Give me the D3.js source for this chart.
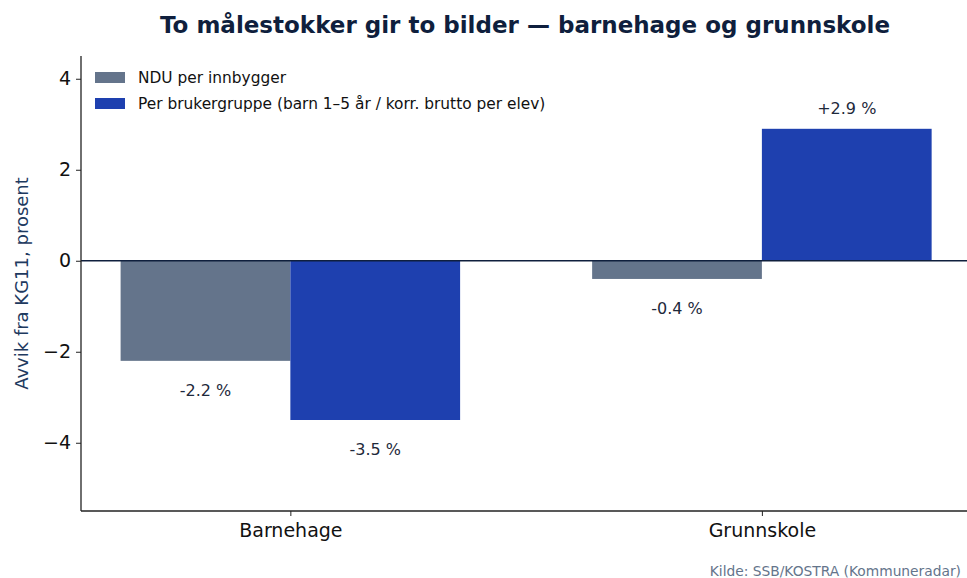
<!DOCTYPE html>
<html>
<head>
<meta charset="utf-8">
<script src="https://cdn.jsdelivr.net/npm/d3@7"></script>
<style>
  body { margin: 0; background: #fff; }
  text { font-family: "DejaVu Sans", sans-serif; }
</style>
</head>
<body>
<svg width="967" height="578"></svg>
<script>
const categories = ["Barnehage", "Grunnskole"];
const seriesNames = ["NDU per innbygger", "Per brukergruppe (barn 1–5 år / korr. brutto per elev)"];
const nduValues = [-2.2, -0.4];
const brukerValues = [-3.5, 2.9];
const yTicks = [-4, -2, 0, 2, 4];
const colors = ["#64748b", "#1e40af"];

const svg = d3.select("svg"),
  margin = { top: 56, right: 0, bottom: 67, left: 81 },
  width = +svg.attr("width") - margin.left - margin.right,
  height = +svg.attr("height") - margin.top - margin.bottom,
  g = svg.append("g").attr("transform", "translate(" + margin.left + "," + margin.top + ")");

// category index -> pixel, matplotlib-like margins
const x = d3.scaleLinear().domain([-0.444, 1.435]).range([0, width]);
const y = d3.scaleLinear().domain([-5.5, 4.5]).range([height, 0]);
const barW = 0.36;

const series = [nduValues, brukerValues];
series.forEach((vals, s) => {
  g.selectAll(".bar" + s)
    .data(vals)
    .enter().append("rect")
    .attr("x", (d, i) => x(i + (s === 0 ? -barW : 0)))
    .attr("width", x(barW) - x(0))
    .attr("y", d => y(Math.max(0, d)))
    .attr("height", d => Math.abs(y(d) - y(0)))
    .attr("fill", colors[s]);

  g.selectAll(".lab" + s)
    .data(vals)
    .enter().append("text")
    .attr("x", (d, i) => x(i + (s === 0 ? -barW / 2 : barW / 2)))
    .attr("y", d => d < 0 ? y(d) + 35 : y(d) - 15)
    .attr("text-anchor", "middle")
    .attr("font-size", "16px")
    .attr("fill", "#1e293b")
    .text(d => (d > 0 ? "+" : "") + d.toFixed(1) + " %");
});

// zero line
g.append("line")
  .attr("x1", 0).attr("x2", width)
  .attr("y1", y(0)).attr("y2", y(0))
  .attr("stroke", "#0f1f3d").attr("stroke-width", 1.3);

// axes
const yAxis = g.append("g")
  .call(d3.axisLeft(y).tickValues(yTicks).tickSize(5).tickPadding(5)
    .tickFormat(d => d < 0 ? "\u2212" + Math.abs(d) : d));
const xAxis = g.append("g")
  .attr("transform", "translate(0," + height + ")")
  .call(d3.axisBottom(x).tickValues([0, 1]).tickSize(5).tickPadding(8)
    .tickFormat(i => categories[i]));

[yAxis, xAxis].forEach(a => {
  a.select(".domain").attr("stroke", "#222").attr("stroke-width", 1.3)
    .attr("d", a === yAxis ? "M0,0V" + height : "M0,0H" + width);
  a.selectAll(".tick line").attr("stroke", "#222");
  a.selectAll("text").attr("font-size", "19px").attr("fill", "#111")
    .attr("font-family", "DejaVu Sans, sans-serif");
});

// y label
svg.append("text")
  .attr("transform", "translate(28," + (margin.top + y(-0.5)) + ") rotate(-90)")
  .attr("text-anchor", "middle")
  .attr("font-size", "18px")
  .attr("fill", "#1e3a5f")
  .text("Avvik fra KG11, prosent");

// title
svg.append("text")
  .attr("x", 525).attr("y", 33)
  .attr("text-anchor", "middle")
  .attr("font-size", "23px")
  .attr("font-weight", "bold")
  .attr("fill", "#0f1f3d")
  .text("To målestokker gir to bilder — barnehage og grunnskole");

// legend
const legend = svg.append("g").attr("transform", "translate(95,72)");
seriesNames.forEach((name, i) => {
  legend.append("rect")
    .attr("x", 0).attr("y", i * 26)
    .attr("width", 30).attr("height", 11)
    .attr("fill", colors[i]);
  legend.append("text")
    .attr("x", 43).attr("y", i * 26 + 11)
    .attr("font-size", "15.4px")
    .attr("fill", "#111")
    .text(name);
});

// source
svg.append("text")
  .attr("x", 961).attr("y", 576)
  .attr("text-anchor", "end")
  .attr("font-size", "13.8px")
  .attr("fill", "#64748b")
  .text("Kilde: SSB/KOSTRA (Kommuneradar)");
</script>
</body>
</html>
